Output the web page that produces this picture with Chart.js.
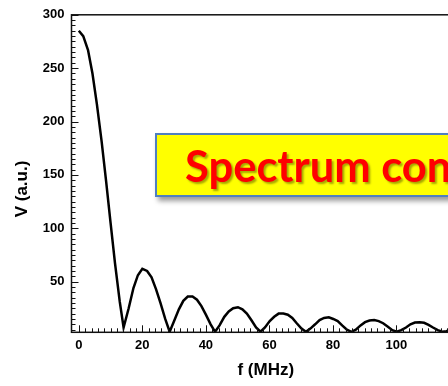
<!DOCTYPE html>
<html>
<head>
<meta charset="utf-8">
<title>Spectrum</title>
<script src="https://cdn.jsdelivr.net/npm/chart.js@4"></script>
<style>
  html, body { margin: 0; padding: 0; background: #fff; overflow: hidden; }
  #wrap { position: relative; width: 448px; height: 386px; overflow: hidden; }
  #chart { position: absolute; left: 0; top: 0; }
  #label {
    position: absolute; left: 155px; top: 133px; width: 420px; height: 60px;
    background: #ffff00; border: 2px solid #4f7fc0;
    box-shadow: 3px 4px 5px rgba(0,0,0,0.4);
    font-family: Lato, "Open Sans", sans-serif; font-weight: bold; font-size: 43.5px;
    line-height: 60px; padding-left: 28px; box-sizing: content-box;
    color: #ff0000; white-space: nowrap;
    text-shadow: 2px 2px 2px rgba(60,60,0,0.45);
  }
</style>
</head>
<body>
<div id="wrap">
  <canvas id="chart" width="470" height="386"></canvas>
  <div id="label">Spectrum content</div>
</div>
<script>
    // frequency (MHz) and amplitude (a.u.)
    const freq = [0, 1.4, 2.9, 4.3, 5.7, 7.2, 8.6, 10.0, 11.4, 12.9, 14.1,
        15.7, 17.2, 18.6, 20.0, 21.5, 22.9, 24.3, 25.7, 27.2, 28.6,
        30.0, 31.5, 32.9, 34.3, 35.8, 37.2, 38.6, 40.0, 41.5, 42.9,
        44.3, 45.8, 47.2, 48.6, 50.1, 51.5, 52.9, 54.3, 55.8, 57.2,
        58.6, 60.1, 61.5, 62.9, 64.4, 65.8, 67.2, 68.6, 70.1, 71.5,
        72.9, 74.4, 75.8, 77.2, 78.7, 80.1, 81.5, 82.9, 84.4, 85.8,
        87.2, 88.7, 90.1, 91.5, 93.0, 94.4, 95.8, 97.2, 98.7, 100.1,
        101.5, 103.0, 104.4, 105.8, 107.3, 108.7, 110.1, 111.5, 113.0, 114.4,
        115.8, 117.3, 118.7, 120.1];
    const volt = [285, 280, 267, 245, 216, 181, 144, 105, 67, 31, 7,
        25, 44, 56, 62, 60, 54, 43, 30, 15, 3,
        13, 24, 32, 36, 36, 33, 27, 19, 10, 3,
        9, 17, 22, 25, 26, 24, 20, 14, 7, 3,
        7, 13, 17, 20, 20, 19, 16, 11, 6, 3,
        6, 10, 14, 16, 16.5, 15, 13, 9, 5, 3,
        5, 9, 12, 13.5, 14, 13, 11, 8, 4.5, 3,
        4.5, 7, 10, 11.7, 12, 11.4, 9.5, 7, 4.5, 3,
        3.5, 6.5, 9, 10.3];
    const xTicks = [0, 20, 40, 60, 80, 100];
    const yTicks = [50, 100, 150, 200, 250, 300];

    const points = freq.map((f, i) => ({x: f, y: volt[i]}));
    const axisFont = {family: "'Liberation Sans', Arial, sans-serif", weight: 'bold', size: 13};
    const titleFont = {family: "'Liberation Sans', Arial, sans-serif", weight: 'bold', size: 17};

    // box frame with inward ticks, plus the rotated y title
    const frame = {
        id: 'frame',
        afterDraw(chart) {
            const {ctx, chartArea: a, scales: {x, y}} = chart;
            ctx.save();
            ctx.strokeStyle = '#111';
            ctx.lineWidth = 1;
            ctx.beginPath();
            for (let v = 0; v <= 120; v += 2) {
                const px = Math.round(x.getPixelForValue(v)) + 0.5;
                const len = v % 20 === 0 ? 7 : 4;
                ctx.moveTo(px, a.bottom);
                ctx.lineTo(px, a.bottom - len);
            }
            for (let v = 5; v <= 300; v += 5) {
                const py = Math.round(y.getPixelForValue(v)) + 0.5;
                const len = v % 50 === 0 ? 7 : 4;
                ctx.moveTo(a.left, py);
                ctx.lineTo(a.left + len, py);
            }
            ctx.stroke();
            ctx.lineWidth = 1.5;
            ctx.strokeRect(a.left, a.top, a.right - a.left, a.bottom - a.top);
            ctx.translate(22, 189);
            ctx.rotate(-Math.PI / 2);
            ctx.fillStyle = '#000';
            ctx.font = 'bold 17px "Liberation Sans", Arial, sans-serif';
            ctx.textAlign = 'center';
            ctx.textBaseline = 'middle';
            ctx.fillText('V (a.u.)', 0, 0);
            ctx.restore();
        }
    };

    new Chart(document.getElementById('chart'), {
        type: 'line',
        data: {
            datasets: [{
                label: 'V',
                data: points,
                borderColor: '#000',
                borderWidth: 2.5,
                pointRadius: 0,
                tension: 0,
                fill: false
            }]
        },
        options: {
            responsive: false,
            animation: false,
            layout: {padding: {top: 14, right: 10, left: 0, bottom: 0}},
            plugins: {
                legend: {display: false},
                tooltip: {enabled: false}
            },
            scales: {
                x: {
                    type: 'linear',
                    min: -2.3,
                    max: 120,
                    afterBuildTicks: s => { s.ticks = xTicks.map(v => ({value: v})); },
                    afterFit: s => { s.height = 53.7; },
                    grid: {display: false, drawTicks: false},
                    border: {display: false},
                    ticks: {color: '#000', font: axisFont, padding: 5, maxRotation: 0},
                    title: {display: true, text: 'f (MHz)', color: '#000', font: titleFont, padding: {top: 0, bottom: 5}}
                },
                y: {
                    min: 2.5,
                    max: 300,
                    afterBuildTicks: s => { s.ticks = yTicks.map(v => ({value: v})); },
                    afterFit: s => { s.width = 71.5; },
                    grid: {display: false, drawTicks: false},
                    border: {display: false},
                    ticks: {color: '#000', font: axisFont, padding: 7}
                }
            }
        },
        plugins: [frame]
    });
</script>
</body>
</html>
